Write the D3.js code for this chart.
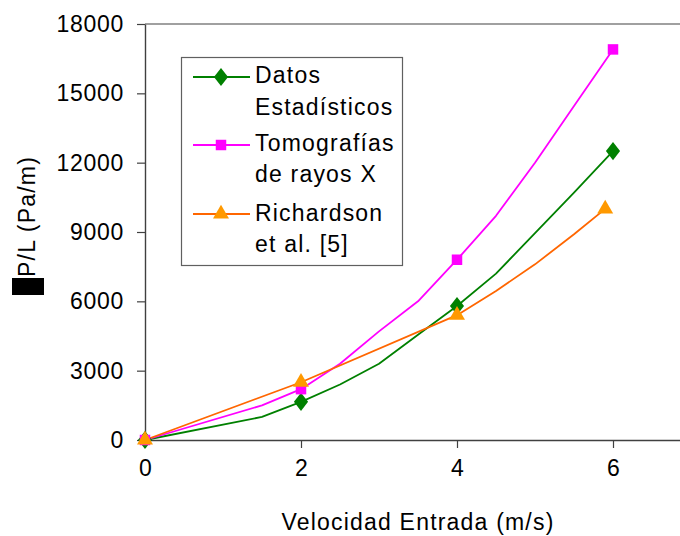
<!DOCTYPE html>
<html>
<head>
<meta charset="utf-8">
<script src="https://cdn.jsdelivr.net/npm/d3@7/dist/d3.min.js"></script>
<style>
  html, body { margin: 0; padding: 0; background: #fff; }
  svg { display: block; }
  text { font-family: "Liberation Sans", Arial, sans-serif; fill: #000; }
</style>
</head>
<body>
<svg id="chart" width="680" height="536"></svg>
<script>
// ---- data ----
const velocidadDatos = [0, 1.5, 2, 2.5, 3, 3.5, 4, 4.5, 5, 5.5, 6];
const datosEstadisticos = [0, 1000, 1650, 2400, 3300, 4550, 5800, 7200, 8950, 10700, 12500];
const velocidadTomo = [0, 1.5, 2, 2.5, 3, 3.5, 4, 4.5, 5, 5.5, 6];
const tomografias = [0, 1500, 2200, 3300, 4700, 6000, 7800, 9700, 12000, 14450, 16900];
const velocidadRich = [0, 2, 4, 4.5, 5, 5.5, 5.9];
const richardson = [0, 2500, 5400, 6450, 7600, 8900, 10000];
// points that carry a marker
const markerDatos = [0, 2, 4, 6];
const markerTomo = [0, 2, 4, 6];
const markerRich = [0, 2, 4, 5.9];
const xTicks = [0, 2, 4, 6];
const yTicks = [0, 3000, 6000, 9000, 12000, 15000, 18000];
const legendLabels = [["Datos", "Estadísticos"], ["Tomografías", "de rayos X"], ["Richardson", "et al. [5]"]];
const xTitle = "Velocidad Entrada (m/s)";
const yTitle = "P/L (Pa/m)";

const svg = d3.select("#chart");
const x = d3.scaleLinear().domain([0, 7]).range([145, 691]);
const y = d3.scaleLinear().domain([0, 18000]).range([440, 24]);

// top border
svg.append("line").attr("x1", 145).attr("x2", 680).attr("y1", y(18000)).attr("y2", y(18000))
  .attr("stroke", "#808080").attr("stroke-width", 1.3);

// y axis
const yAxis = d3.axisLeft(y).tickValues(yTicks).tickFormat(d3.format("d"))
  .tickSize(8).tickSizeOuter(0).tickPadding(13);
const gy = svg.append("g").attr("transform", `translate(${x(0)},0)`).call(yAxis);
gy.select(".domain").attr("stroke", "#404040").attr("stroke-width", 1.4);
gy.selectAll(".tick line").attr("stroke", "#404040").attr("stroke-width", 1.2);
gy.selectAll(".tick text").attr("font-size", 23).attr("letter-spacing", "0.7px")
  .attr("font-family", "Liberation Sans, Arial, sans-serif").attr("fill", "#000");

// x axis
const xAxis = d3.axisBottom(x).tickValues(xTicks).tickFormat(d3.format("d"))
  .tickSize(8).tickSizeOuter(0).tickPadding(12);
const gx = svg.append("g").attr("transform", `translate(0,${y(0)})`).call(xAxis);
gx.select(".domain").attr("stroke", "#404040").attr("stroke-width", 1.4);
gx.selectAll(".tick line").attr("stroke", "#404040").attr("stroke-width", 1.2);
gx.selectAll(".tick text").attr("font-size", 23)
  .attr("font-family", "Liberation Sans, Arial, sans-serif").attr("fill", "#000");

// titles
svg.append("text").attr("x", 418).attr("y", 530).attr("text-anchor", "middle")
  .attr("font-size", 23).attr("letter-spacing", "1.2px").text(xTitle);
svg.append("rect").attr("x", 12).attr("y", 278).attr("width", 32).attr("height", 17).attr("fill", "#000");
svg.append("text").attr("transform", "translate(35,277) rotate(-90)").attr("text-anchor", "start")
  .attr("font-size", 23).attr("letter-spacing", "1.2px").text(yTitle);

// series
const series = [
  {xs: velocidadDatos, ys: datosEstadisticos, marks: markerDatos, line: "#008000", fill: "#008000", sym: d3.symbolDiamond, size: 95},
  {xs: velocidadTomo, ys: tomografias, marks: markerTomo, line: "#FF00FF", fill: "#FF00FF", sym: d3.symbolSquare, size: 110},
  {xs: velocidadRich, ys: richardson, marks: markerRich, line: "#FF6600", fill: "#FF9900", sym: d3.symbolTriangle, size: 110}
];
const lineGen = d3.line().x(d => x(d[0])).y(d => y(d[1]));

series.forEach(s => {
  const pts = s.xs.map((v, i) => [v, s.ys[i]]);
  svg.append("path").datum(pts).attr("d", lineGen).attr("fill", "none")
    .attr("stroke", s.line).attr("stroke-width", 1.8).attr("stroke-linejoin", "round");
});
series.forEach(s => {
  const pts = s.xs.map((v, i) => [v, s.ys[i]]).filter(p => s.marks.includes(p[0]));
  const sym = d3.symbol().type(s.sym).size(s.size);
  svg.selectAll(null).data(pts).enter().append("path")
    .attr("d", sym)
    .attr("transform", d => s.sym === d3.symbolDiamond
      ? `translate(${x(d[0])},${y(d[1])}) scale(1.35,1)`
      : `translate(${x(d[0])},${y(d[1])})`)
    .attr("fill", s.fill);
});

// legend
const lg = svg.append("g");
lg.append("rect").attr("x", 181.5).attr("y", 57.5).attr("width", 221).attr("height", 208)
  .attr("fill", "#fff").attr("stroke", "#606060").attr("stroke-width", 1.2);
const legendSymY = [77, 145, 214];
const legendBase = [[83, 115], [151, 182], [221, 252]];
series.forEach((s, i) => {
  lg.append("line").attr("x1", 193).attr("x2", 250).attr("y1", legendSymY[i]).attr("y2", legendSymY[i])
    .attr("stroke", s.line).attr("stroke-width", 1.8);
  lg.append("path").attr("d", d3.symbol().type(s.sym).size(s.size)())
    .attr("transform", s.sym === d3.symbolDiamond
      ? `translate(221,${legendSymY[i]}) scale(1.35,1)`
      : `translate(221,${legendSymY[i]})`)
    .attr("fill", s.fill);
  legendLabels[i].forEach((t, j) => {
    lg.append("text").attr("x", 255).attr("y", legendBase[i][j]).attr("font-size", 23)
      .attr("letter-spacing", "1.2px").text(t);
  });
});
</script>
</body>
</html>
